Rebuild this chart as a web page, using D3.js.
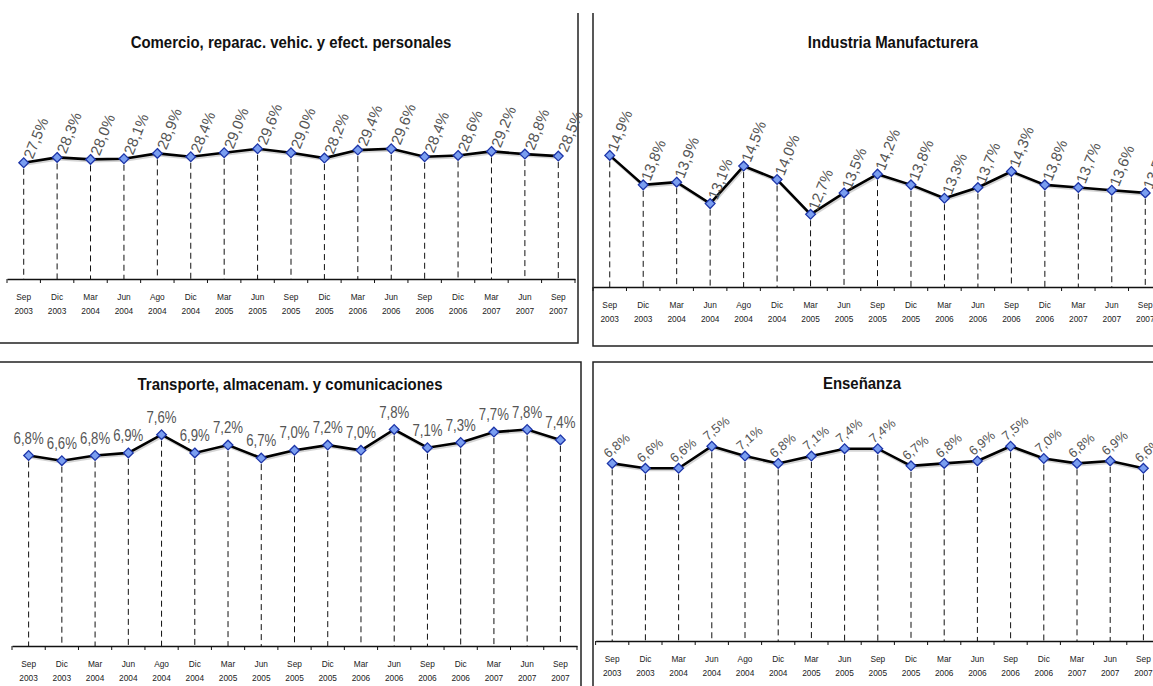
<!DOCTYPE html>
<html><head><meta charset="utf-8">
<script src="https://cdn.jsdelivr.net/npm/d3@7"></script>
<style>body{margin:0;background:#fff}svg{display:block}</style>
</head><body>
<svg id="c" width="1153" height="686"></svg>
<script>
const months = ["Sep","Dic","Mar","Jun","Ago","Dic","Mar","Jun","Sep","Dic","Mar","Jun","Sep","Dic","Mar","Jun","Sep"];
const years  = ["2003","2003","2004","2004","2004","2004","2005","2005","2005","2005","2006","2006","2006","2006","2007","2007","2007"];
const comercio   = [27.5,28.3,28.0,28.1,28.9,28.4,29.0,29.6,29.0,28.2,29.4,29.6,28.4,28.6,29.2,28.8,28.5];
const industria  = [14.9,13.8,13.9,13.1,14.5,14.0,12.7,13.5,14.2,13.8,13.3,13.7,14.3,13.8,13.7,13.6,13.5];
const transporte = [6.8,6.6,6.8,6.9,7.6,6.9,7.2,6.7,7.0,7.2,7.0,7.8,7.1,7.3,7.7,7.8,7.4];
const ensenanza  = [6.8,6.6,6.6,7.5,7.1,6.8,7.1,7.4,7.4,6.7,6.8,6.9,7.5,7.0,6.8,6.9,6.6];
const titles = ["Comercio, reparac. vehic. y efect. personales","Industria Manufacturera","Transporte, almacenam. y comunicaciones","Enseñanza"];

const cats = months.map((m,i)=>m+" "+years[i]);
const svg = d3.select("#c");
const SANS = "'Liberation Sans',Arial,sans-serif";

// frames
const frame = svg.append("g").attr("stroke","#222").attr("stroke-width",1.5).attr("fill","none");
frame.append("path").attr("d","M0,343H578V13");
frame.append("path").attr("d","M1153,346H593V13");
frame.append("path").attr("d","M0,362H581V686");
frame.append("path").attr("d","M1153,362H593V686");

const panels = [
  {title:titles[0], vals:comercio, xr:[7,575], yd:[10,30], yr:[279.3,146.1], axisY:279, tx:291, ty:48,
   rot:-68, sx:1, dx:9, dy:-3, anchor:"start", fs:15},
  {title:titles[1], vals:industria, xr:[593,1162], yd:[10,15], yr:[286.7,152.7], axisY:287, tx:893, ty:48,
   rot:-68, sx:1, dx:7, dy:-3, anchor:"start", fs:15},
  {title:titles[2], vals:transporte, xr:[12,577], yd:[0,8], yr:[632.3,424.3], axisY:646, tx:290, ty:390,
   rot:0, sx:0.8, dx:0, dy:-12, anchor:"middle", fs:16.5},
  {title:titles[3], vals:ensenanza, xr:[595.6,1160], yd:[0,8], yr:[630,434], axisY:641, tx:862, ty:389,
   rot:-40, sx:1, dx:-4, dy:-5, anchor:"start", fs:13}
];

panels.forEach(p=>{
  const g = svg.append("g");
  const x = d3.scaleBand().domain(cats).range(p.xr).padding(0);
  const y = d3.scaleLinear().domain(p.yd).range(p.yr);
  const cx = c => x(c)+x.bandwidth()/2;
  const data = cats.map((c,i)=>({c, v:p.vals[i], i}));

  g.append("text").attr("transform",`translate(${p.tx},${p.ty}) scale(0.88,1)`).attr("text-anchor","middle")
    .attr("font-family",SANS).attr("font-weight","bold").attr("font-size",17).attr("fill","#111")
    .text(p.title);

  // axis
  const ax = g.append("g").attr("transform",`translate(0,${p.axisY})`)
    .call(d3.axisBottom(x).tickSizeInner(0).tickSizeOuter(0).tickFormat(""));
  ax.select(".domain").attr("stroke","#111").attr("stroke-width",1.3);
  const bounds = cats.map(c=>x(c)).concat([p.xr[1]]);
  g.selectAll(".tk").data(bounds).join("line").attr("class","tk")
    .attr("x1",d=>d).attr("x2",d=>d).attr("y1",p.axisY).attr("y2",p.axisY+4)
    .attr("stroke","#111").attr("stroke-width",1);
  const tl = g.selectAll(".tl").data(data).join("g").attr("class","tl")
    .attr("transform",d=>`translate(${cx(d.c)},${p.axisY}) scale(0.85,1)`);
  tl.append("text").attr("y",21).attr("text-anchor","middle").attr("font-family",SANS)
    .attr("font-size",9.8).attr("fill","#222").text(d=>months[d.i]);
  tl.append("text").attr("y",35).attr("text-anchor","middle").attr("font-family",SANS)
    .attr("font-size",9.8).attr("fill","#222").text(d=>years[d.i]);

  // drop lines
  g.selectAll(".drop").data(data).join("line").attr("class","drop")
    .attr("x1",d=>cx(d.c)).attr("x2",d=>cx(d.c)).attr("y1",d=>y(d.v)+6).attr("y2",p.axisY)
    .attr("stroke","#111").attr("stroke-width",1).attr("stroke-dasharray","6,4");

  // line with shadow
  const line = d3.line().x(d=>cx(d.c)).y(d=>y(d.v));
  g.append("path").datum(data).attr("d",line).attr("fill","none").attr("stroke","#aaa")
    .attr("stroke-width",3).attr("transform","translate(1,1.5)").attr("opacity",0.5);
  g.append("path").datum(data).attr("d",line).attr("fill","none").attr("stroke","#000").attr("stroke-width",2.6);

  // labels (behind markers)
  g.selectAll(".lb").data(data).join("text").attr("class","lb")
    .attr("transform",d=>`translate(${cx(d.c)+p.dx},${y(d.v)+p.dy}) rotate(${p.rot}) scale(${p.sx},1)`)
    .attr("text-anchor",p.anchor).attr("font-family",SANS).attr("font-size",p.fs).attr("fill","#555")
    .text(d=>d3.format(".1f")(d.v).replace(".",",")+"%");

  // markers
  g.selectAll(".mk").data(data).join("path").attr("class","mk")
    .attr("d",d3.symbol(d3.symbolDiamond2,60))
    .attr("transform",d=>`translate(${cx(d.c)},${y(d.v)})`)
    .attr("fill","#7a9ef0").attr("stroke","#1c34a8").attr("stroke-width",1.3);
});
</script>
</body></html>
